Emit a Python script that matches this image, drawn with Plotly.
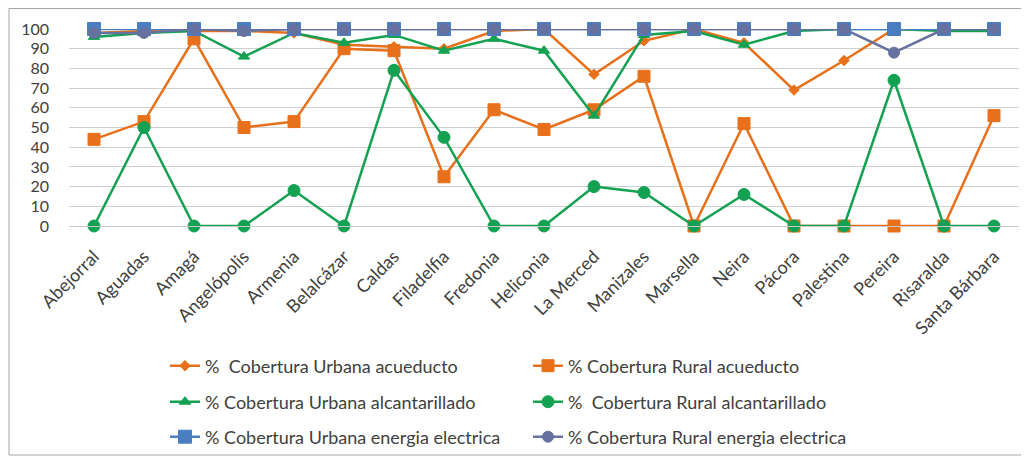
import plotly.graph_objects as go

# -----------------------------
# DATA
# -----------------------------
municipios = ["Abejorral", "Aguadas", "Amagá", "Angelópolis", "Armenia", "Belalcázar",
              "Caldas", "Filadelfia", "Fredonia", "Heliconia", "La Merced", "Manizales",
              "Marsella", "Neira", "Pácora", "Palestina", "Pereira", "Risaralda",
              "Santa Bárbara"]

urbana_acueducto = [98, 99, 99, 99, 98, 92, 91, 90, 99, 100, 77, 94, 100, 93, 69, 84, 100, 100, 100]
rural_acueducto = [44, 53, 95, 50, 53, 90, 89, 25, 59, 49, 59, 76, 0, 52, 0, 0, 0, 0, 56]
urbana_alcantarillado = [96, 98, 99, 86, 98, 93, 97, 89, 95, 89, 56, 97, 99, 92, 99, 100, 100, 99, 99]
rural_alcantarillado = [0, 50, 0, 0, 18, 0, 79, 45, 0, 0, 20, 17, 0, 16, 0, 0, 74, 0, 0]
urbana_energia = [100, 100, 100, 100, 100, 100, 100, 100, 100, 100, 100, 100, 100, 100, 100, 100, 100, 100, 100]
rural_energia = [98, 98, 100, 99, 100, 100, 100, 100, 100, 100, 100, 100, 100, 100, 100, 100, 88, 100, 100]

y_ticks = [0, 10, 20, 30, 40, 50, 60, 70, 80, 90, 100]

# -----------------------------
# STYLE
# -----------------------------
ORANGE = "#E8701A"
GREEN = "#14A152"
BLUE = "#4A7EC0"
SLATE = "#66719F"
FONT = "Lato"

series = [
    ("%  Cobertura Urbana acueducto", urbana_acueducto, ORANGE, "diamond", 8, "legend"),
    ("% Cobertura Rural acueducto", rural_acueducto, ORANGE, "square", 12, "legend"),
    ("% Cobertura Urbana alcantarillado", urbana_alcantarillado, GREEN, "triangle-up", 10, "legend2"),
    ("%  Cobertura Rural alcantarillado", rural_alcantarillado, GREEN, "circle", 12, "legend2"),
    ("% Cobertura Urbana energia electrica", urbana_energia, BLUE, "square", 13, "legend3"),
    ("% Cobertura Rural energia electrica", rural_energia, SLATE, "circle", 11, "legend3"),
]

fig = go.Figure()
for name, vals, color, symbol, size, leg in series:
    fig.add_trace(go.Scatter(
        x=municipios, y=vals, name=name, mode="lines+markers",
        line=dict(color=color, width=2.5),
        marker=dict(symbol=symbol, size=size, color=color,
                    line=dict(color=color, width=1)),
        cliponaxis=False, legend=leg,
    ))

# page body has an 8px margin, so the figure is 8px smaller and
# positions below are given in figure pixels (screen pixels - 8)
W, H = 1021, 450
L, R, T, B = 61, 1011, 21, 218   # plot area edges

def px_x(p):
    return (p - L) / (R - L)

def px_y(p):
    return (B - p) / (B - T)

legend_common = dict(orientation="h", xanchor="left", yanchor="middle",
                     entrywidth=318, entrywidthmode="pixels", itemwidth=30,
                     font=dict(family=FONT, size=18, color="#404040"),
                     bgcolor="rgba(0,0,0,0)")

fig.update_layout(
    width=W, height=H,
    margin=dict(l=L, r=W - R, t=T, b=H - B, autoexpand=False),
    paper_bgcolor="white", plot_bgcolor="white",
    showlegend=True,
    legend=dict(x=px_x(157), y=px_y(358), **legend_common),
    legend2=dict(x=px_x(157), y=px_y(394), **legend_common),
    legend3=dict(x=px_x(157), y=px_y(429), **legend_common),
    xaxis=dict(
        type="category", range=[-0.5, 18.5], tickangle=-45, automargin=False,
        showgrid=False, showline=True, linecolor="#C8C8C8", linewidth=1,
        ticks="", ticklabelstandoff=12,
        tickfont=dict(family=FONT, size=18, color="#404040"),
    ),
    yaxis=dict(
        range=[0, 100], tickvals=y_ticks, showgrid=True, gridcolor="#CFCFCF",
        gridwidth=1, zeroline=False, showline=False, ticks="", automargin=False,
        ticklabelstandoff=19,
        tickfont=dict(family=FONT, size=16, color="#404040"),
    ),
    shapes=[dict(type="rect", xref="paper", yref="paper",
                 x0=px_x(1), x1=px_x(1016), y0=px_y(447), y1=px_y(0.5),
                 line=dict(color="#A6A6A6", width=1), fillcolor="rgba(0,0,0,0)")],
)

fig.write_html("out.html")
